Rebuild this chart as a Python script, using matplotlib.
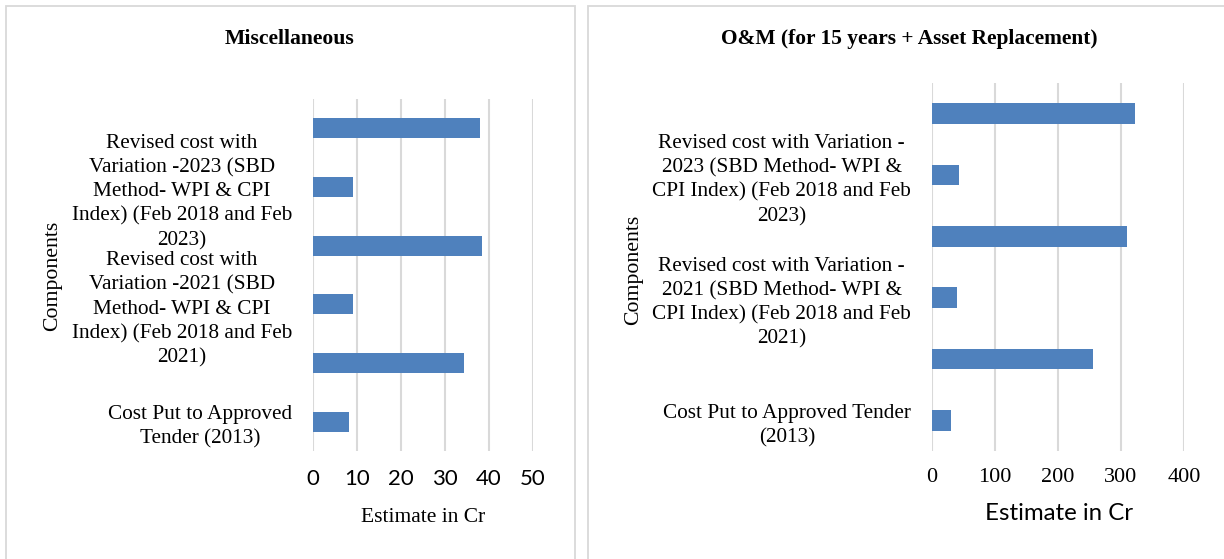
import matplotlib
matplotlib.use("Agg")
import matplotlib.pyplot as plt
from matplotlib.patches import Rectangle

# categories from bottom to top; Excel only printed every second label
misc_labels = [
    "Cost Put to Approved\nTender (2013)",
    "",
    "Revised cost with\nVariation -2021 (SBD\nMethod- WPI & CPI\nIndex) (Feb 2018 and Feb\n2021)",
    "",
    "Revised cost with\nVariation -2023 (SBD\nMethod- WPI & CPI\nIndex) (Feb 2018 and Feb\n2023)",
    "",
]
om_labels = [
    "Cost Put to Approved Tender\n(2013)",
    "",
    "Revised cost with Variation -\n2021 (SBD Method- WPI &\nCPI Index) (Feb 2018 and Feb\n2021)",
    "",
    "Revised cost with Variation -\n2023 (SBD Method- WPI &\nCPI Index) (Feb 2018 and Feb\n2023)",
    "",
]
misc_values = [8.1, 34.4, 9.0, 38.3, 9.2, 38.0]
om_values = [30, 255, 39, 309, 43, 322]
misc_ticks = [0, 10, 20, 30, 40, 50]
om_ticks = [0, 100, 200, 300, 400]

BAR = "#4f81bd"
GRID = "#d9d9d9"
SERIF = "Liberation Serif"
SANS = "Lato"

W, H = 1224, 559
fig = plt.figure(figsize=(W / 100, H / 100), dpi=100)

# chart frames
for x0, x1 in [(6, 575), (588, 1240)]:
    fig.add_artist(Rectangle((x0 / W, -0.05), (x1 - x0) / W, (H - 6) / H + 0.05,
                             transform=fig.transFigure, fill=False, ec=GRID, lw=1.3))


def panel(rect, labels, values, ticks, tick_font, tick_size, tick_pad):
    ax = fig.add_axes(rect)
    pos = range(len(values))
    ax.barh(pos, values, height=0.34, color=BAR, zorder=3)
    ax.set_ylim(-0.5, len(values) - 0.5)
    ax.set_xlim(ticks[0], ticks[-1])
    ax.set_xticks(ticks)
    ax.set_yticks(list(pos))
    ax.set_yticklabels(labels, fontfamily=SERIF, fontsize=15.3, ha="right",
                       multialignment="center", linespacing=1.36)
    for t in ax.get_xticklabels():
        t.set_fontfamily(tick_font)
        t.set_fontsize(tick_size)
    ax.tick_params(length=0)
    ax.tick_params(axis="y", pad=15)
    ax.tick_params(axis="x", pad=tick_pad)
    ax.grid(axis="x", color=GRID, lw=1.5, zorder=0)
    for s in ax.spines.values():
        s.set_visible(False)
    return ax


panel([313 / W, (H - 451) / H, 220 / W, 352 / H], misc_labels, misc_values,
      misc_ticks, SANS, 16, 13)
panel([932 / W, (H - 451) / H, 252 / W, 368 / H], om_labels, om_values,
      om_ticks, SERIF, 16, 12)

fig.text(290 / W, 1 - 39 / H, "Miscellaneous", ha="center", va="center",
         fontfamily=SERIF, fontweight="bold", fontsize=15.6)
fig.text(909 / W, 1 - 39 / H, "O&M (for 15 years + Asset Replacement)", ha="center",
         va="center", fontfamily=SERIF, fontweight="bold", fontsize=15.4)

fig.text(53 / W, 1 - 276 / H, "Components", rotation=90, ha="center", va="center",
         fontfamily=SERIF, fontsize=15.7)
fig.text(634 / W, 1 - 270 / H, "Components", rotation=90, ha="center", va="center",
         fontfamily=SERIF, fontsize=15.7)

fig.text(423 / W, 1 - 517 / H, "Estimate in Cr", ha="center", va="center",
         fontfamily=SERIF, fontsize=15.5)
fig.text(1059 / W, 1 - 513 / H, "Estimate in Cr", ha="center", va="center",
         fontfamily=SANS, fontsize=17.3)

fig.savefig("out.png", dpi=100)
